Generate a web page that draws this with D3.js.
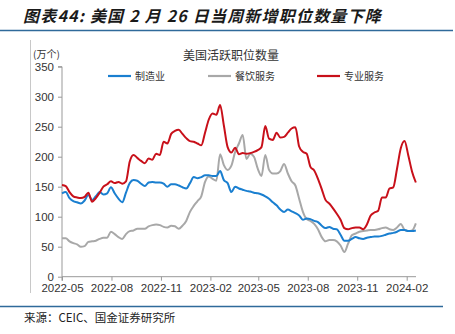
<!DOCTYPE html>
<html>
<head>
<meta charset="utf-8">
<script src="https://cdn.jsdelivr.net/npm/d3@7/dist/d3.min.js"></script>
<style>
  html, body { margin: 0; padding: 0; background: #fff; }
  svg { display: block; }
  text { font-family: "Liberation Sans", Arial, sans-serif; }
  .cjk { font-family: "Noto Sans CJK SC", "Noto Sans", sans-serif; }
</style>
</head>
<body>
<svg id="chart" width="455" height="334"></svg>
<script>
// Weekly active job postings (万个), first week starting 2022-05-01
const startDate = "2022-05-01";
const weekCount = 95;

const manufacturing = [
  139, 141, 131, 126, 124, 122, 127, 136, 128, 134,
  141, 137, 139, 149, 139, 130, 124, 140, 156, 161,
  160, 155, 151, 157, 158, 157, 157, 155, 150, 154,
  154, 152, 149, 147, 156, 166, 164, 166, 169, 169,
  168, 168, 176, 161, 156, 141, 150, 147, 145, 143,
  142, 140, 139, 137, 134, 130, 124, 119, 112, 108,
  112, 109, 106, 102, 95, 97, 96, 93, 91, 85,
  81, 83, 80, 79, 70, 60, 60, 63, 66, 64,
  63, 65, 66, 67, 67, 68, 70, 72, 73, 75,
  78, 78, 76, 76, 77
];

const foodService = [
  64, 64, 59, 56, 54, 50, 51, 58, 59, 60,
  63, 65, 65, 75, 71, 66, 63, 71, 76, 77,
  80, 80, 80, 84, 86, 87, 86, 83, 82, 85,
  84, 80, 85, 93, 108, 118, 126, 134, 158, 167,
  163, 160, 204, 186, 178, 185, 208, 222, 236, 196,
  205, 200, 180, 168, 203, 178, 172, 172, 176, 188,
  172, 159, 152, 130, 108, 96, 93, 88, 79, 66,
  59, 61, 61, 59, 52, 41, 55, 69, 72, 75,
  76, 77, 78, 78, 79, 81, 82, 79, 78, 82,
  88, 78, 76, 77, 89
];

const professional = [
  153, 151, 141, 134, 132, 131, 133, 140, 125, 131,
  140, 150, 154, 159, 156, 158, 155, 159, 192, 203,
  198, 193, 189, 197, 195, 205, 203, 225, 222, 238,
  243, 245, 238, 231, 226, 225, 222, 219, 240, 262,
  272, 270, 286, 252, 216, 207, 215, 204, 206, 205,
  206, 208, 211, 216, 251, 230, 228, 240, 232, 233,
  240, 247, 249, 217, 208, 205, 183, 177, 163, 146,
  128, 122, 114, 105, 95, 81, 79, 81, 82, 82,
  79, 87, 102, 107, 110, 132, 132, 147, 149, 180,
  214, 226, 202, 175, 157
];

const seriesNames = ["制造业", "餐饮服务", "专业服务"];
const seriesColors = ["#1a7fd0", "#a8a8a8", "#c8101a"];
const yTicks = [0, 50, 100, 150, 200, 250, 300, 350];
const xTickLabels = ["2022-05", "2022-08", "2022-11", "2023-02", "2023-05", "2023-08", "2023-11", "2024-02"];

const titleText = "图表44: 美国 2 月 26 日当周新增职位数量下降";
const chartTitle = "美国活跃职位数量";
const unitText = "(万个)";
const sourceText = "来源：CEIC、国金证券研究所";

const parse = d3.timeParse("%Y-%m-%d");
const parseMonth = d3.timeParse("%Y-%m");
const t0 = parse(startDate);
const dates = d3.range(weekCount).map(i => d3.timeDay.offset(t0, 7 * i));
const allSeries = [manufacturing, foodService, professional];

const svg = d3.select("#chart");

// header and footer rules
svg.append("line").attr("x1", 0).attr("x2", 453).attr("y1", 30.5).attr("y2", 30.5)
  .attr("stroke", "#2f6a9a").attr("stroke-width", 1.5);
svg.append("line").attr("x1", 0).attr("x2", 443).attr("y1", 306.5).attr("y2", 306.5)
  .attr("stroke", "#2f6a9a").attr("stroke-width", 1.5);
svg.append("line").attr("x1", 30.5).attr("x2", 30.5).attr("y1", 40).attr("y2", 293)
  .attr("stroke", "#c8c8c8").attr("stroke-width", 1);

svg.append("text").attr("class", "cjk").attr("x", 23).attr("y", 22)
  .attr("font-size", 16).attr("font-weight", "bold").attr("font-style", "italic")
  .attr("letter-spacing", 1.2).attr("fill", "#1a1a1a").text(titleText);

svg.append("text").attr("class", "cjk").attr("x", 24).attr("y", 322)
  .attr("font-size", 11.5).attr("fill", "#222").text(sourceText);

const margin = { left: 62, right: 416, top: 66.7, bottom: 276.7 };

const x = d3.scaleTime()
  .domain([parseMonth("2022-05"), parseMonth("2024-02")])
  .range([margin.left, 406.7]);
const y = d3.scaleLinear().domain([0, 350]).range([margin.bottom, margin.top]);

// axes
const yAxis = d3.axisLeft(y).tickValues(yTicks).tickSize(4).tickPadding(4);
const gy = svg.append("g").attr("transform", `translate(${margin.left},0)`).call(yAxis);
gy.select(".domain").attr("stroke", "#999").attr("d", `M-4,${y(350)}H0V${y(0)}`);

const xTicks = xTickLabels.map(s => parseMonth(s));
const xAxis = d3.axisBottom(x).tickValues(xTicks).tickSize(4).tickPadding(3)
  .tickFormat(d3.timeFormat("%Y-%m"));
const gx = svg.append("g").attr("transform", `translate(0,${margin.bottom})`).call(xAxis);
gx.select(".domain").attr("stroke", "#999").attr("d", `M${margin.left},4V0H${margin.right}`);

[gx, gy].forEach(g => {
  g.selectAll(".tick line").attr("stroke", "#999");
  g.selectAll(".tick text").attr("fill", "#333").attr("font-size", 11.5)
    .attr("font-family", "Liberation Sans, Arial, sans-serif");
});

svg.append("text").attr("class", "cjk").attr("x", 33).attr("y", 58)
  .attr("font-size", 10).attr("fill", "#333").text(unitText);

svg.append("text").attr("class", "cjk").attr("x", 231).attr("y", 60)
  .attr("text-anchor", "middle").attr("font-size", 12).attr("fill", "#333").text(chartTitle);

// series lines
const line = d3.line()
  .x((d, i) => x(dates[i]))
  .y(d => y(d))
  .curve(d3.curveMonotoneX);

[1, 0, 2].forEach(k => {
  svg.append("path").datum(allSeries[k])
    .attr("fill", "none").attr("stroke", seriesColors[k])
    .attr("stroke-width", 2).attr("stroke-linejoin", "round")
    .attr("d", line);
});

// legend
const legendX = [108, 208, 317];
seriesNames.forEach((name, k) => {
  const g = svg.append("g").attr("transform", `translate(${legendX[k]},76)`);
  g.append("line").attr("x1", 0).attr("x2", 23).attr("y1", 0).attr("y2", 0)
    .attr("stroke", seriesColors[k]).attr("stroke-width", 2.2);
  g.append("text").attr("class", "cjk").attr("x", 27).attr("y", 3.5)
    .attr("font-size", 10).attr("fill", "#333").text(name);
});
</script>
</body>
</html>
